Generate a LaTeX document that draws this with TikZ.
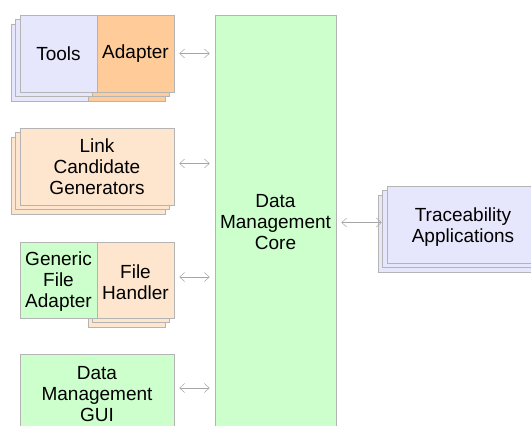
\documentclass[tikz,border=0pt]{standalone}
\usepackage{fontspec}
\setmainfont{Liberation Sans}
\usetikzlibrary{arrows.meta}
\definecolor{lav}{RGB}{230,230,252}
\definecolor{orng}{RGB}{255,204,153}
\definecolor{peach}{RGB}{253,229,206}
\definecolor{grn}{RGB}{204,255,204}
\definecolor{bord}{RGB}{180,180,180}
\tikzset{
  blk/.style={draw=bord, line width=0.6pt, inner sep=0pt, align=center,
    font=\fontsize{19}{21}\selectfont, text=black},
  txt/.style={inner sep=0pt, align=center, font=\fontsize{19}{21}\selectfont, text=black},
  lay/.style={draw=bord, line width=0.6pt},
  link/.style={draw=gray!70, line width=0.5pt,
    {Straight Barb[length=5pt,width=9pt]}-{Straight Barb[length=5pt,width=9pt]},
    shorten <=5pt, shorten >=5pt}
}
\begin{document}
\begin{tikzpicture}[x=1pt,y=-1pt]
\useasboundingbox (0,0) rectangle (531,426);
\clip (0,0) rectangle (531,426);
\fill[white] (0,0) rectangle (531,426);

% Tools / Adapter stack
\filldraw[lay,fill=lav] (11,24) rectangle (88,101);
\filldraw[lay,fill=orng] (88,24) rectangle (165,101);
\filldraw[lay,fill=lav] (15.5,19.5) rectangle (92.5,96.5);
\filldraw[lay,fill=orng] (92.5,19.5) rectangle (169.5,96.5);
\node[blk,fill=lav,minimum width=77pt,minimum height=77pt] (tools) at (58.5,53.5) {Tools};
\node[blk,fill=orng,minimum width=77pt,minimum height=77pt] (adapter) at (135.5,53.5) {Adapter};

% Link candidate generators stack
\filldraw[lay,fill=peach] (11,137) rectangle (165,214);
\filldraw[lay,fill=peach] (15.5,132.5) rectangle (169.5,209.5);
\node[blk,fill=peach,minimum width=154pt,minimum height=77pt] (lcg) at (97,166.5) {Link\\Candidate\\Generators};

% File handler stack
\filldraw[lay,fill=peach] (88,251) rectangle (165,327);
\filldraw[lay,fill=peach] (92.5,246.5) rectangle (169.5,322.5);
\node[blk,fill=grn,minimum width=77pt,minimum height=76pt] (gfa) at (58.5,280) {};
\node[blk,fill=peach,minimum width=77pt,minimum height=76pt] (fh) at (135.5,280) {};
\node[txt] (gfat) at (58.5,282) {Generic\\File\\Adapter};
\node[txt] (fht) at (135.5,282) {File\\Handler};

% GUI
\node[blk,fill=grn,minimum width=154pt,minimum height=86pt] (gui) at (97,397) {};
\node[txt] (guit) at (97,394) {Data\\Management\\GUI};

% Core
\node[blk,fill=grn,minimum width=121pt,minimum height=425pt] (core) at (275.5,227.5) {};
\node[txt] (coret) at (275.5,222) {Data\\Management\\Core};

% Traceability stack
\filldraw[lay,fill=lav] (378,195) rectangle (533,272);
\filldraw[lay,fill=lav] (382.5,190.5) rectangle (537.5,267.5);
\node[blk,fill=lav,minimum width=155pt,minimum height=77pt] (trace) at (464.5,224.5) {};
\node[txt] (tracet) at (463,227) {Traceability\\Applications};

% Connector anchor points
\coordinate (pl) at ([yshift=3pt]lcg.east);
\coordinate (pf) at ([yshift=3pt]fh.east);
\coordinate (pt) at ([yshift=2pt]trace.west);

% Connectors
\draw[link] (adapter.east) -- (core.west |- adapter.east);
\draw[link] (pl) -- (core.west |- pl);
\draw[link] (pf) -- (core.west |- pf);
\draw[link] (gui.east |- 0,388) -- (core.west |- 0,388);
\draw[link] (core.east |- pt) -- (pt);
\end{tikzpicture}
\end{document}
